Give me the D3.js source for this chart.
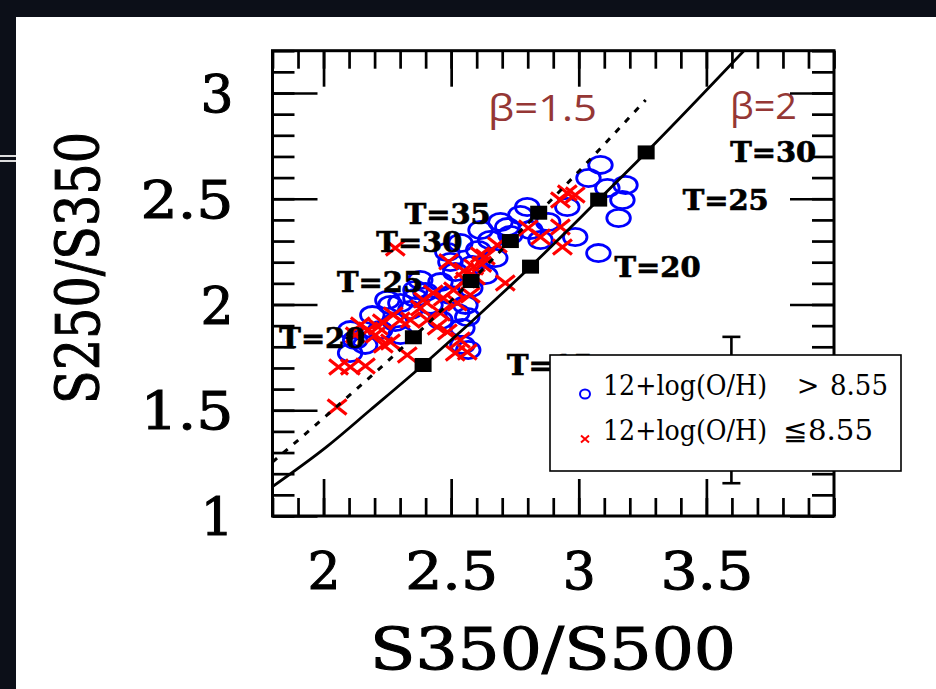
<!DOCTYPE html>
<html><head><meta charset="utf-8">
<script src="https://cdn.jsdelivr.net/npm/d3@7"></script>
<style>body{margin:0;background:#0b0e16;overflow:hidden}svg{display:block}</style>
</head><body><svg id="c" width="936" height="689"></svg>
<script>
// ---------- data ----------
const xDomain = [1.8, 4.0];
const yDomain = [1.0, 3.2];
const xMajor = [2, 2.5, 3, 3.5];
const xTickLabels = ["2", "2.5", "3", "3.5"];
const yMajor = [1, 1.5, 2, 2.5, 3];
const yTickLabels = ["1", "1.5", "2", "2.5", "3"];
const xMinor = d3.range(18, 41).map(d => d / 10);
const yMinor = d3.range(10, 33).map(d => d / 10);

const blueX = [3.085,3.038,3.183,3.112,3.171,3.156,3.077,2.955,2.986,2.798,2.771,2.880,2.720,2.850,2.653,2.606,2.536,2.485,2.673,2.583,2.516,2.458,2.399,2.497,2.575,2.419,2.340,2.281,2.222,2.163,2.124,2.301,2.544,2.567,2.458,2.732,2.810,2.360,2.634,2.379,2.497,2.556,2.262,2.104,2.544,2.301,2.524,2.563,2.615,2.693,2.360,2.250,2.191,2.105];
const blueY = [2.660,2.598,2.565,2.551,2.494,2.409,2.243,2.461,2.319,2.461,2.423,2.390,2.366,2.305,2.305,2.258,2.291,2.248,2.220,2.187,2.154,2.106,2.059,2.045,2.078,1.998,1.974,1.917,1.879,1.809,1.832,1.856,1.889,1.785,1.927,2.329,2.352,2.031,2.139,2.116,2.201,1.998,1.998,1.771,1.809,2.007,1.960,1.941,2.352,2.390,2.069,2.021,1.950,1.879];

const redX = [2.281,2.490,2.588,2.634,2.955,2.986,2.928,2.802,2.850,2.928,2.936,2.712,2.059,2.105,2.164,2.053,2.328,2.234,2.262,2.203,2.175,2.301,2.340,2.273,2.230,2.407,2.445,2.485,2.458,2.391,2.430,2.469,2.509,2.524,2.536,2.563,2.516,2.214,2.144,2.556,2.595,2.575,2.379,2.124,2.614,2.681,2.620,2.550];
const redY = [2.267,2.202,2.177,2.225,2.527,2.518,2.494,2.362,2.319,2.366,2.272,2.102,1.704,1.704,1.709,1.515,1.761,1.809,1.823,1.856,1.879,1.927,1.927,1.950,1.917,1.927,1.894,1.870,1.960,2.021,2.054,2.031,2.069,2.007,1.832,1.775,1.771,1.894,1.903,2.116,2.130,2.045,1.983,1.856,2.234,2.281,2.190,2.160];

// model tracks
const beta2X = [1.80,2.013,2.183,2.390,2.811,3.078,3.264,3.660];
const beta2Y = [1.139,1.328,1.501,1.714,2.179,2.496,2.719,3.216];
const beta15X = [1.80,2.006,2.352,2.578,2.732,2.843,3.262];
const beta15Y = [1.255,1.469,1.845,2.111,2.300,2.434,2.967];

const sq2X = [2.390,2.811,3.078,3.264];
const sq2Y = [1.714,2.179,2.496,2.719];
const sq2T = ["T=15","T=20","T=25","T=30"];
const sq15X = [2.352,2.578,2.732,2.843];
const sq15Y = [1.845,2.111,2.300,2.434];
const sq15T = ["T=20","T=25","T=30","T=35"];

const errX = 3.598, errY = 1.501, errHalf = 0.346;
const betaLabels = ["β=1.5", "β=2"];
const legendLabels = [["12+log(O/H)", ">", "8.55"], ["12+log(O/H)", "≦8.55"]];
const xTitle = "S350/S500", yTitle = "S250/S350";

// ---------- drawing ----------
const svg = d3.select("#c");
svg.append("rect").attr("width",936).attr("height",689).attr("fill","#0c0f18");
svg.append("rect").attr("x",16).attr("y",17).attr("width",920).attr("height",672).attr("fill","#fff");
svg.append("rect").attr("x",0).attr("y",155).attr("width",16).attr("height",2).attr("fill","#ddd");
svg.append("rect").attr("x",0).attr("y",160).attr("width",16).attr("height",2).attr("fill","#ddd");

const L = 272.5, R = 834, T = 50.7, B = 516;
const x = d3.scaleLinear().domain(xDomain).range([L, R]);
const y = d3.scaleLinear().domain(yDomain).range([B, T]);

svg.append("clipPath").attr("id","frame").append("rect").attr("x",L).attr("y",T).attr("width",R-L).attr("height",B-T);

const plot = svg.append("g");
plot.selectAll("ellipse.b").data(blueX.map((d,i)=>[d,blueY[i]])).join("ellipse")
  .attr("cx",d=>x(d[0])).attr("cy",d=>y(d[1])).attr("rx",11.8).attr("ry",8.6)
  .attr("fill","none").attr("stroke","#0000ff").attr("stroke-width",2.8);
plot.selectAll("path.r").data(redX.map((d,i)=>[d,redY[i]])).join("path")
  .attr("d",d=>{const cx=x(d[0]),cy=y(d[1]);return `M${cx-9.5},${cy-7.5}L${cx+9.5},${cy+7.5}M${cx-9.5},${cy+7.5}L${cx+9.5},${cy-7.5}`;})
  .attr("fill","none").attr("stroke","#ff0000").attr("stroke-width",3.2);

const line = d3.line().x(d=>x(d[0])).y(d=>y(d[1])).curve(d3.curveMonotoneX);
const curves = svg.append("g").attr("clip-path","url(#frame)");
curves.append("path").attr("d",line(beta2X.map((d,i)=>[d,beta2Y[i]])))
  .attr("fill","none").attr("stroke","#000").attr("stroke-width",2.8);
curves.append("path").attr("d",line(beta15X.map((d,i)=>[d,beta15Y[i]])))
  .attr("fill","none").attr("stroke","#000").attr("stroke-width",3).attr("stroke-dasharray","6,8");

const sqAll = sq2X.map((d,i)=>[d,sq2Y[i]]).concat(sq15X.map((d,i)=>[d,sq15Y[i]]));
svg.selectAll("rect.sq").data(sqAll).join("rect")
  .attr("x",d=>x(d[0])-8.5).attr("y",d=>y(d[1])-7).attr("width",17).attr("height",14).attr("fill","#000");

const serif = "'DejaVu Serif', serif";
svg.selectAll("text.tl").data(sq15X.map((d,i)=>[d,sq15Y[i],sq15T[i]])).join("text")
  .attr("x",d=>x(d[0])-48-86).attr("y",d=>y(d[1])+11).text(d=>d[2])
  .attr("font-family",serif).attr("font-weight","bold").attr("font-size",27)
  .attr("stroke","#000").attr("stroke-width",0.7)
  .attr("textLength",86).attr("lengthAdjust","spacingAndGlyphs");
svg.selectAll("text.tr").data(sq2X.map((d,i)=>[d,sq2Y[i],sq2T[i]])).join("text")
  .attr("x",d=>x(d[0])+84).attr("y",d=>y(d[1])+10).text(d=>d[2])
  .attr("font-family",serif).attr("font-weight","bold").attr("font-size",27)
  .attr("stroke","#000").attr("stroke-width",0.7)
  .attr("textLength",86).attr("lengthAdjust","spacingAndGlyphs");

svg.append("text").attr("x",488).attr("y",121).text(betaLabels[0])
  .attr("font-family","'Open Sans', sans-serif").attr("font-size",36).attr("fill","#953735")
  .attr("textLength",109).attr("lengthAdjust","spacingAndGlyphs");
svg.append("text").attr("x",730).attr("y",119).text(betaLabels[1])
  .attr("font-family","'Open Sans', sans-serif").attr("font-size",36).attr("fill","#953735")
  .attr("textLength",67).attr("lengthAdjust","spacingAndGlyphs");

function ticks(gen, vals, size, tr){
  svg.append("g").attr("transform",tr)
    .call(gen.tickValues(vals).tickSize(size).tickFormat(""))
    .call(g=>g.select(".domain").remove())
    .selectAll("line").attr("stroke","#000").attr("stroke-width",2.7);
}
ticks(d3.axisBottom(x), xMinor, -18, `translate(0,${B})`);
ticks(d3.axisBottom(x), xMajor, -37, `translate(0,${B})`);
ticks(d3.axisTop(x), xMinor, -18, `translate(0,${T})`);
ticks(d3.axisTop(x), xMajor, -36, `translate(0,${T})`);
ticks(d3.axisLeft(y), yMinor, -22, `translate(${L},0)`);
ticks(d3.axisLeft(y), yMajor, -45, `translate(${L},0)`);
ticks(d3.axisRight(y), yMinor, -22, `translate(${R},0)`);
ticks(d3.axisRight(y), yMajor, -44, `translate(${R},0)`);
svg.append("rect").attr("x",L).attr("y",T).attr("width",R-L).attr("height",B-T)
  .attr("fill","none").attr("stroke","#000").attr("stroke-width",3);

// tick labels
function fitLabel(sel, labels){
  sel.each(function(d,i){ if(labels[i].length>1) d3.select(this).attr("textLength",labels[i].length*31).attr("lengthAdjust","spacingAndGlyphs"); });
}
const xl = svg.append("g").attr("transform",`translate(0,${B})`)
  .call(d3.axisBottom(x).tickValues(xMajor).tickFormat((d,i)=>xTickLabels[i]).tickSize(0).tickPadding(0));
xl.select(".domain").remove();
xl.selectAll("text").attr("y",73).attr("dy",null).attr("font-family",serif).attr("font-size",52)
  .attr("fill","#000").attr("stroke","#000").attr("stroke-width",1).call(fitLabel, xTickLabels);
const yl = svg.append("g").attr("transform",`translate(${L},0)`)
  .call(d3.axisLeft(y).tickValues(yMajor).tickFormat((d,i)=>yTickLabels[i]).tickSize(0).tickPadding(0));
yl.select(".domain").remove();
yl.selectAll("text").attr("x",-39).attr("dy","0.36em").attr("font-family",serif).attr("font-size",52)
  .attr("fill","#000").attr("stroke","#000").attr("stroke-width",1).call(fitLabel, yTickLabels);

// axis titles
svg.append("text").attr("x",553).attr("y",669).attr("text-anchor","middle").text(xTitle)
  .attr("font-family",serif).attr("font-size",58).attr("stroke","#000").attr("stroke-width",1.1)
  .attr("textLength",366).attr("lengthAdjust","spacingAndGlyphs");
svg.append("text").attr("transform","translate(99,268) rotate(-90)").attr("text-anchor","middle").text(yTitle)
  .attr("font-family",serif).attr("font-size",60).attr("stroke","#000").attr("stroke-width",1.1)
  .attr("textLength",272).attr("lengthAdjust","spacingAndGlyphs");

// representative error bar
const eb = svg.append("g").attr("stroke","#000").attr("stroke-width",2.6);
eb.append("line").attr("x1",x(errX)).attr("x2",x(errX)).attr("y1",y(errY+errHalf)).attr("y2",y(errY-errHalf));
eb.append("line").attr("x1",x(errX)-9).attr("x2",x(errX)+9).attr("y1",y(errY+errHalf)).attr("y2",y(errY+errHalf));
eb.append("line").attr("x1",x(errX)-9).attr("x2",x(errX)+9).attr("y1",y(errY-errHalf)).attr("y2",y(errY-errHalf));

// legend
const lg = svg.append("g");
lg.append("rect").attr("x",550).attr("y",355).attr("width",351).attr("height",116)
  .attr("fill","#fff").attr("stroke","#000").attr("stroke-width",1.6);
lg.append("ellipse").attr("cx",585).attr("cy",394).attr("rx",5).attr("ry",4.5)
  .attr("fill","none").attr("stroke","#0000ff").attr("stroke-width",2);
lg.append("path").attr("d","M581,435.5L589,442.5M581,442.5L589,435.5").attr("stroke","#ff0000").attr("stroke-width",2);
function lt(xp, yp, s, w, anchor){ const t = lg.append("text").attr("x",xp).attr("y",yp).text(s).attr("font-family",serif).attr("font-size",27);
  if (w) t.attr("textLength",w).attr("lengthAdjust","spacingAndGlyphs");
  if (anchor) t.attr("text-anchor",anchor); }
lt(603,395,legendLabels[0][0],164); lt(808,395,legendLabels[0][1],null,"middle"); lt(830,395,legendLabels[0][2],58);
lt(603,439.5,legendLabels[1][0],164); lt(783,439.5,legendLabels[1][1],90);
</script></body></html>
